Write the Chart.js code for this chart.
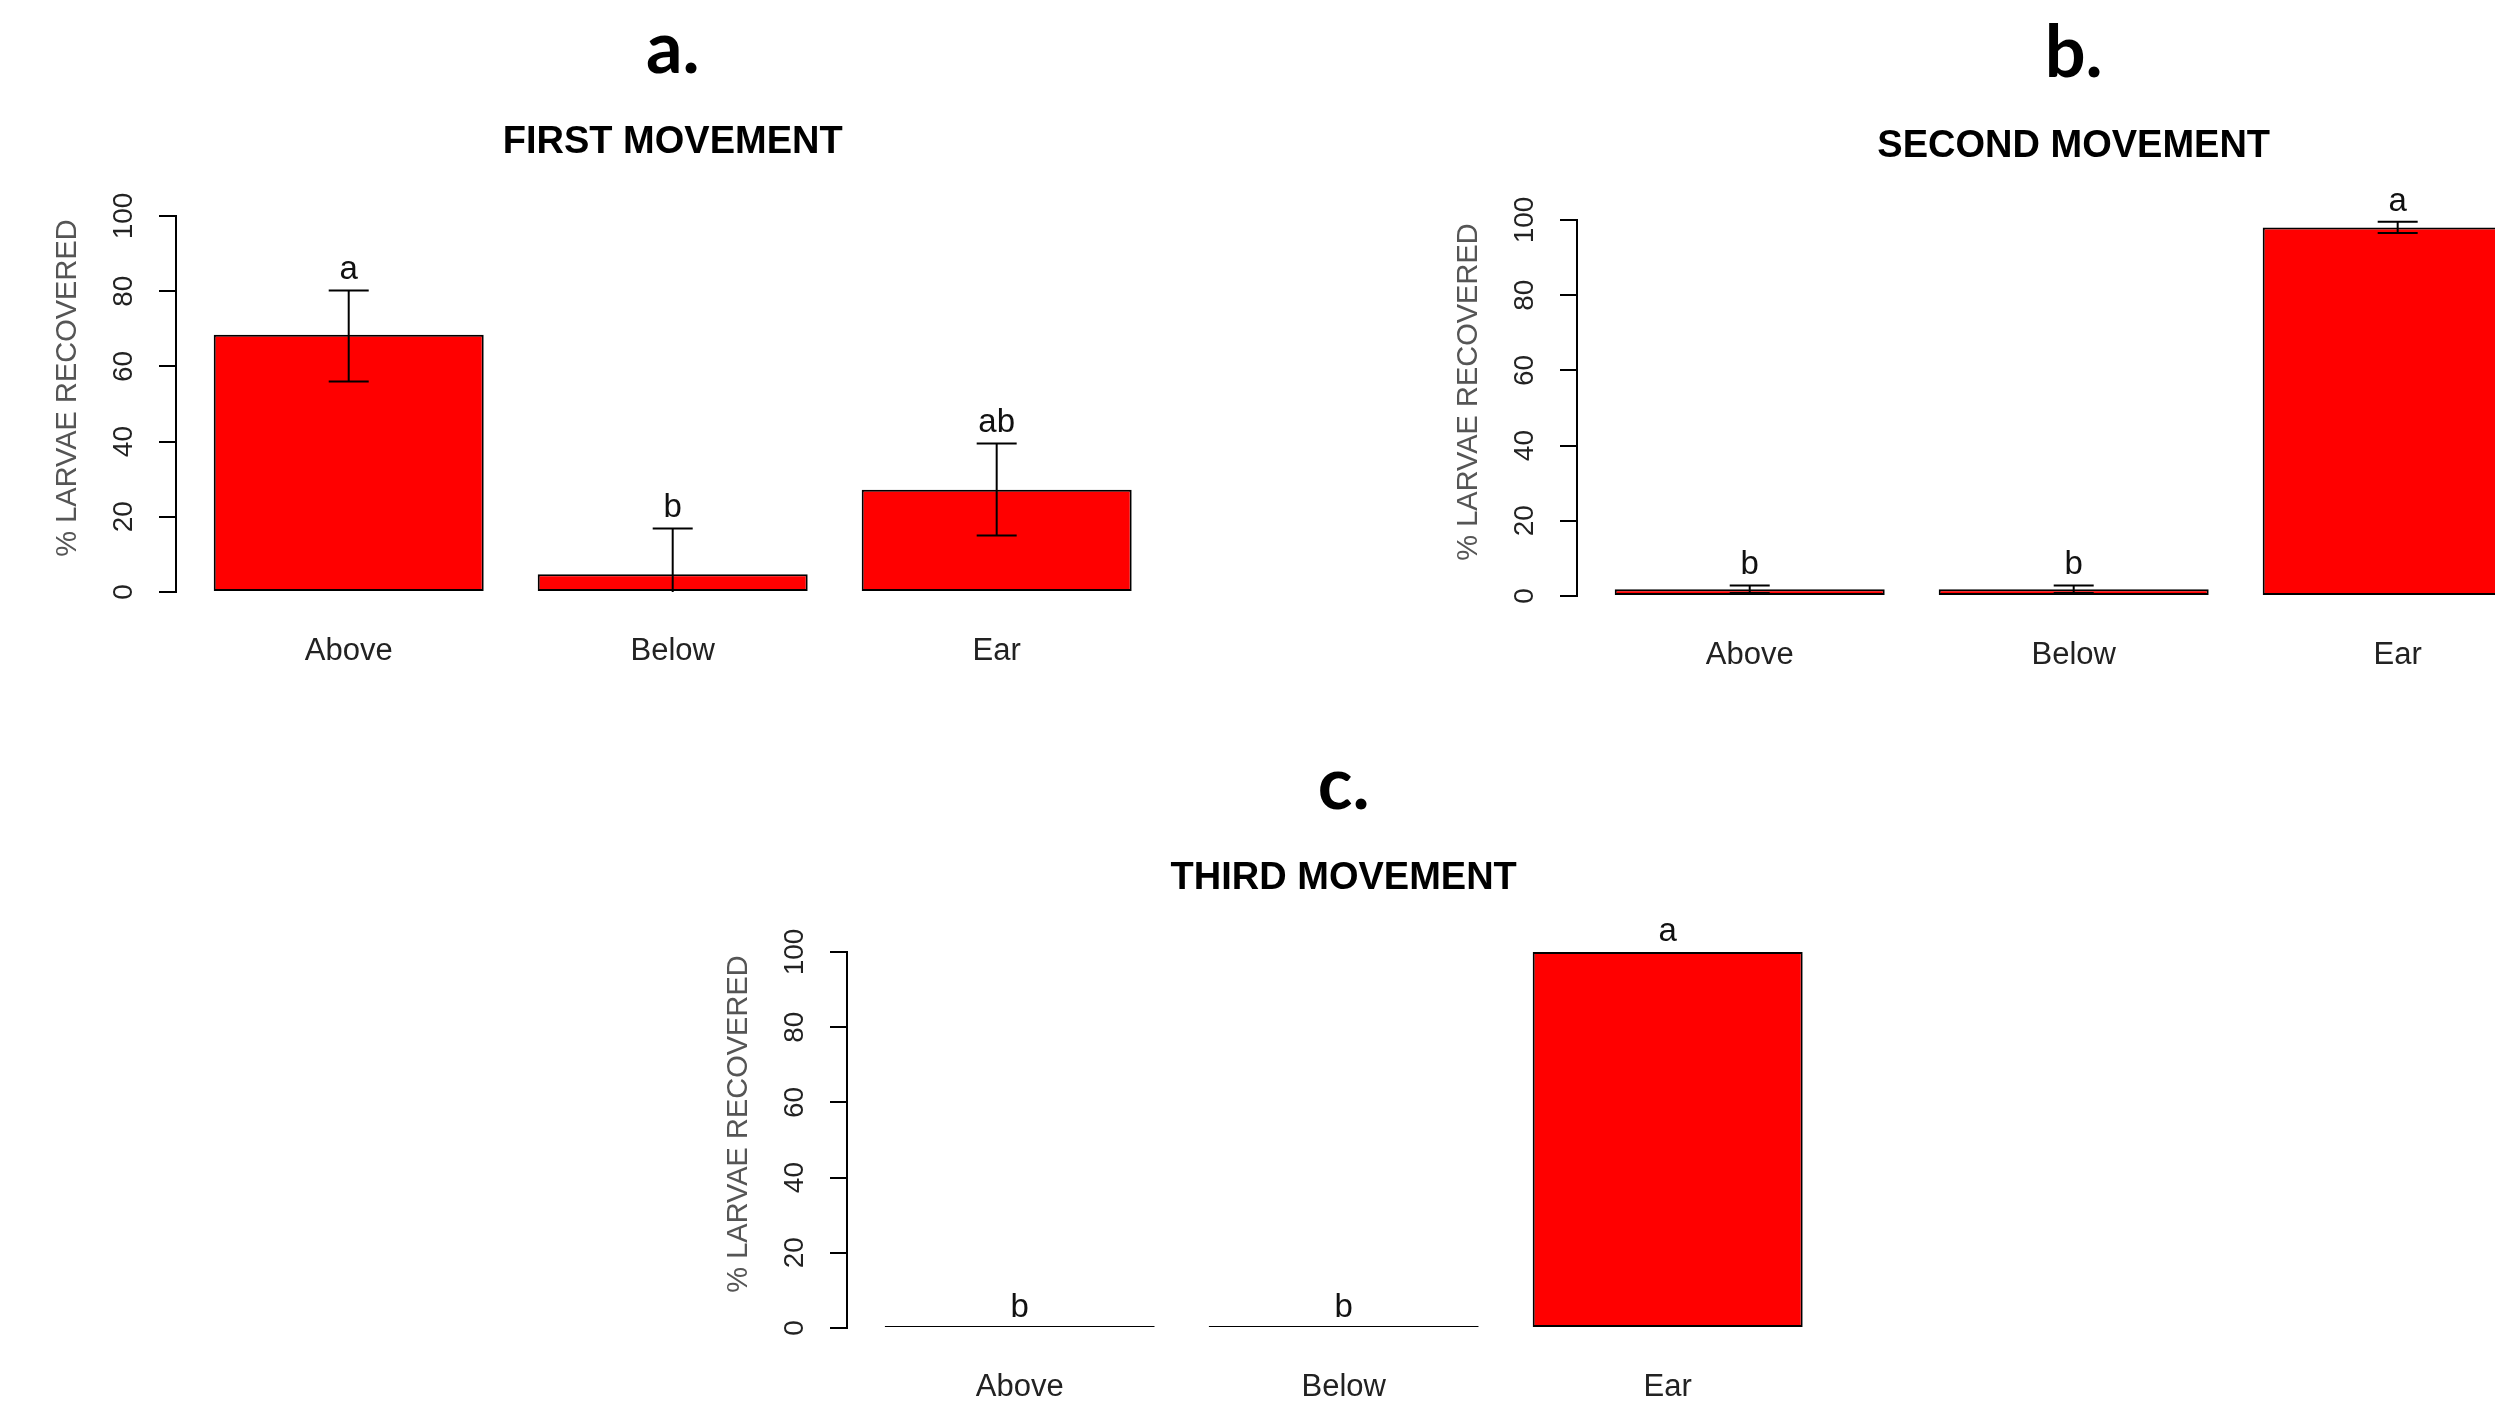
<!DOCTYPE html>
<html>
<head>
<meta charset="utf-8">
<script src="https://cdn.jsdelivr.net/npm/chart.js@4.4.1/dist/chart.umd.min.js"></script>
<style>
  html, body { margin: 0; padding: 0; background: #fff; width: 2495px; height: 1403px; overflow: hidden; position: relative; }
  canvas { position: absolute; }
</style>
</head>
<body>
<canvas id="panelA" width="1200" height="700" style="left:0px;top:0px;"></canvas>
<canvas id="panelB" width="1200" height="700" style="left:1400.7px;top:3.7px;"></canvas>
<canvas id="panelC" width="1200" height="700" style="left:671px;top:736px;"></canvas>
<script>
// ---- data ----
const categories = ['Above', 'Below', 'Ear'];
const yTicks = [0, 20, 40, 60, 80, 100];
const yAxisTitle = '% LARVAE RECOVERED';
const panelLabels = ['a.', 'b.', 'c.'];
const panelTitles = ['FIRST MOVEMENT', 'SECOND MOVEMENT', 'THIRD MOVEMENT'];

const firstValues   = [68.4, 4.7, 27.2];
const firstErrLow   = [56.0, -7.5, 15.0];
const firstErrHigh  = [80.2, 16.9, 39.5];
const firstLetters  = ['a', 'b', 'ab'];

const secondValues  = [1.8, 1.8, 98.0];
const secondErrLow  = [0.8, 0.8, 96.5];
const secondErrHigh = [2.8, 2.8, 99.5];
const secondLetters = ['b', 'b', 'a'];

const thirdValues   = [0, 0, 100];
const thirdErrLow   = [0, 0, 100];
const thirdErrHigh  = [0, 0, 100];
const thirdLetters  = ['b', 'b', 'a'];

// ---- layout (R barplot geometry: width 1, space 0.2) ----
const barCenters = categories.map((_, i) => 0.7 + 1.2 * i);
const xMin = 0.2 - 0.136, xMax = 3.6 + 0.136;

const errPlugin = {
  id: 'errbars',
  afterDatasetsDraw(chart, args, opts) {
    const ctx = chart.ctx, xs = chart.scales.x, ys = chart.scales.y, ca = chart.chartArea;
    const values = chart.data.datasets[0].data;
    ctx.save();
    // y axis line from 0 to 100
    ctx.strokeStyle = '#000';
    ctx.lineWidth = 2;
    ctx.beginPath();
    ctx.moveTo(ca.left - 1, ys.getPixelForValue(0) + 1);
    ctx.lineTo(ca.left - 1, ys.getPixelForValue(100) - 1);
    ctx.stroke();
    // error bars (clipped at the baseline like R)
    ctx.save();
    ctx.beginPath();
    ctx.rect(ca.left, ca.top - 30, ca.right - ca.left, ys.getPixelForValue(0) - ca.top + 30);
    ctx.clip();
    ctx.lineWidth = 2;
    ctx.strokeStyle = '#000';
    values.forEach((d, i) => {
      const lo = opts.low[i], hi = opts.high[i];
      if (lo === hi) return;
      const x = xs.getPixelForValue(d.x);
      const yl = ys.getPixelForValue(lo), yh = ys.getPixelForValue(hi);
      ctx.beginPath();
      ctx.moveTo(x, yl); ctx.lineTo(x, yh);
      ctx.moveTo(x - 20, yh); ctx.lineTo(x + 20, yh);
      ctx.moveTo(x - 20, yl); ctx.lineTo(x + 20, yl);
      ctx.stroke();
    });
    ctx.restore();
    // significance letters
    ctx.fillStyle = '#111';
    ctx.font = '33px "Liberation Sans", Arial, sans-serif';
    ctx.textAlign = 'center';
    ctx.textBaseline = 'alphabetic';
    values.forEach((d, i) => {
      const top = Math.max(d.y, opts.high[i]);
      ctx.fillText(opts.letters[i], xs.getPixelForValue(d.x), ys.getPixelForValue(top) - 11);
    });
    ctx.restore();
  }
};

function makePanel(id, idx, values, low, high, letters) {
  new Chart(document.getElementById(id), {
    type: 'bar',
    data: {
      datasets: [{
        data: values.map((v, i) => ({ x: barCenters[i], y: v })),
        backgroundColor: '#FF0000',
        borderColor: '#000000',
        borderWidth: 2,
        borderSkipped: false,
        categoryPercentage: 1 / 1.2,
        barPercentage: 1,
        minBarLength: 2
      }]
    },
    options: {
      responsive: false,
      animation: false,
      events: [],
      layout: { padding: { left: 0, right: 31.6, top: 0, bottom: 8 } },
      scales: {
        x: {
          type: 'linear',
          min: xMin, max: xMax,
          offset: false,
          afterBuildTicks: s => { s.ticks = barCenters.map(v => ({ value: v })); },
          afterFit: s => { s.height = 100; },
          ticks: {
            autoSkip: false, minRotation: 0, maxRotation: 0, padding: 41,
            color: '#222',
            font: { family: '"Liberation Sans", Arial, sans-serif', size: 31 },
            callback: (v, i) => categories[i]
          },
          grid: { display: false, drawTicks: false },
          border: { display: false }
        },
        y: {
          type: 'linear',
          min: 0, max: 108.5,
          afterBuildTicks: s => { s.ticks = yTicks.map(v => ({ value: v })); },
          afterFit: s => { s.width = 177; },
          ticks: {
            autoSkip: false, minRotation: 90, maxRotation: 90, crossAlign: 'center',
            padding: 11, color: '#222',
            font: { family: '"Liberation Sans", Arial, sans-serif', size: 28 }
          },
          grid: { drawOnChartArea: false, drawTicks: true, tickLength: 18, tickWidth: 2, tickColor: '#000', lineWidth: 2, color: '#000' },
          border: { display: false },
          title: {
            display: true, text: yAxisTitle, color: '#555',
            font: { family: '"Liberation Sans", Arial, sans-serif', size: 29 },
            padding: { top: 51, bottom: 0 }
          }
        }
      },
      plugins: {
        legend: { display: false },
        tooltip: { enabled: false },
        title: {
          display: true, text: panelLabels[idx], fullSize: false, align: 'center', color: '#000',
          font: { family: 'Lato, "Open Sans", sans-serif', size: 72, weight: 'bold', lineHeight: 1 },
          padding: { top: 14, bottom: 0 }
        },
        subtitle: {
          display: true, text: panelTitles[idx], fullSize: false, align: 'center', color: '#000',
          font: { family: '"Liberation Sans", Arial, sans-serif', size: 38, weight: 'bold', lineHeight: 1 },
          padding: { top: 38, bottom: 22 }
        },
        errbars: { low: low, high: high, letters: letters }
      }
    },
    plugins: [errPlugin]
  });
}

makePanel('panelA', 0, firstValues, firstErrLow, firstErrHigh, firstLetters);
makePanel('panelB', 1, secondValues, secondErrLow, secondErrHigh, secondLetters);
makePanel('panelC', 2, thirdValues, thirdErrLow, thirdErrHigh, thirdLetters);
</script>
</body>
</html>
